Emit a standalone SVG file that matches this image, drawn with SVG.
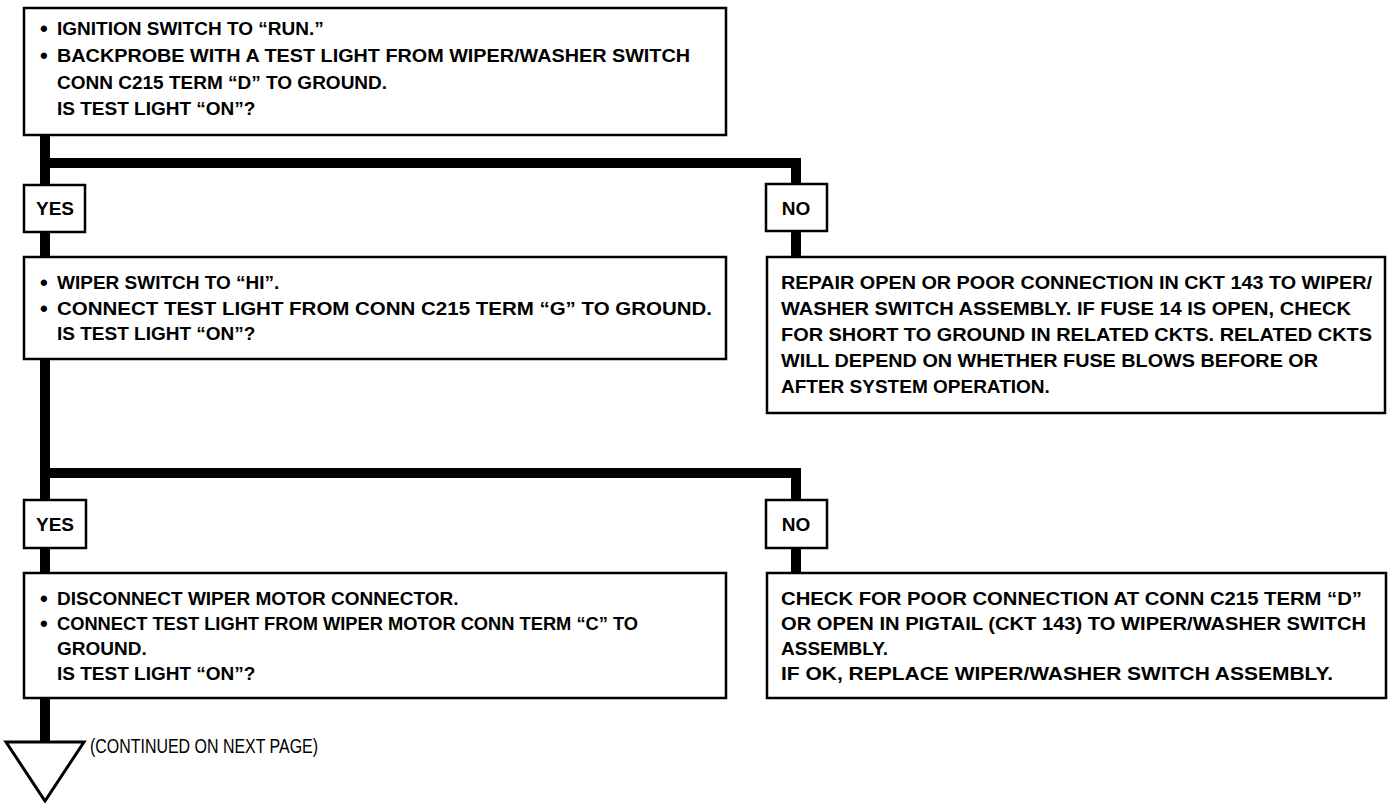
<svg xmlns="http://www.w3.org/2000/svg" width="1390" height="803" viewBox="0 0 1390 803">
<style>
.box{fill:#fff;stroke:#000;stroke-width:2.5}
.t{font-family:"Liberation Sans",Arial,Helvetica,sans-serif;font-weight:bold;font-size:19px;fill:#000}
.b{font-family:"Liberation Sans",Arial,Helvetica,sans-serif;font-weight:bold;font-size:22px;fill:#000}
.n{font-family:"Liberation Sans",Arial,Helvetica,sans-serif;font-size:21px;fill:#000}
.c{fill:none;stroke:#000;stroke-width:10;stroke-linejoin:miter;stroke-linecap:butt}
</style>
<rect width="1390" height="803" fill="#fff"/>
<g id="connectors">
<path class="c" d="M45 135 V742"/>
<path class="c" d="M45 163 H796 V184"/>
<path class="c" d="M796 231 V258"/>
<path class="c" d="M45 473 H796 V501"/>
<path class="c" d="M796 548 V573"/>
</g>
<g id="box1">
<rect class="box" x="24" y="8" width="702" height="127"/>
<text class="b" x="40" y="36">•</text><text class="t" x="57" y="35">IGNITION SWITCH TO “RUN.”</text>
<text class="b" x="40" y="63">•</text><text class="t" x="57" y="62" textLength="633" lengthAdjust="spacingAndGlyphs">BACKPROBE WITH A TEST LIGHT FROM WIPER/WASHER SWITCH</text>
<text class="t" x="57" y="89">CONN C215 TERM “D” TO GROUND.</text>
<text class="t" x="57" y="115">IS TEST LIGHT “ON”?</text>
</g>
<g id="yes1">
<rect class="box" x="24" y="185" width="61" height="47"/>
<text class="t" x="55" y="215" text-anchor="middle">YES</text>
</g>
<g id="no1">
<rect class="box" x="766" y="184" width="61" height="47"/>
<text class="t" x="796" y="215" text-anchor="middle">NO</text>
</g>
<g id="box2">
<rect class="box" x="24" y="257" width="702" height="102"/>
<text class="b" x="40" y="290">•</text><text class="t" x="57" y="289">WIPER SWITCH TO “HI”.</text>
<text class="b" x="40" y="316">•</text><text class="t" x="57" y="315" textLength="655" lengthAdjust="spacingAndGlyphs">CONNECT TEST LIGHT FROM CONN C215 TERM “G” TO GROUND.</text>
<text class="t" x="57" y="340">IS TEST LIGHT “ON”?</text>
</g>
<g id="box2no">
<rect class="box" x="767" y="257" width="618" height="156"/>
<text class="t" x="781" y="289" textLength="591" lengthAdjust="spacingAndGlyphs">REPAIR OPEN OR POOR CONNECTION IN CKT 143 TO WIPER/</text>
<text class="t" x="781" y="315" textLength="570" lengthAdjust="spacingAndGlyphs">WASHER SWITCH ASSEMBLY. IF FUSE 14 IS OPEN, CHECK</text>
<text class="t" x="781" y="341" textLength="591" lengthAdjust="spacingAndGlyphs">FOR SHORT TO GROUND IN RELATED CKTS. RELATED CKTS</text>
<text class="t" x="781" y="367" textLength="537" lengthAdjust="spacingAndGlyphs">WILL DEPEND ON WHETHER FUSE BLOWS BEFORE OR</text>
<text class="t" x="781" y="393">AFTER SYSTEM OPERATION.</text>
</g>
<g id="yes2">
<rect class="box" x="24" y="500" width="62" height="48"/>
<text class="t" x="55" y="531" text-anchor="middle">YES</text>
</g>
<g id="no2">
<rect class="box" x="766" y="500" width="61" height="48"/>
<text class="t" x="796" y="531" text-anchor="middle">NO</text>
</g>
<g id="box3">
<rect class="box" x="24" y="573" width="702" height="125"/>
<text class="b" x="40" y="606">•</text><text class="t" x="57" y="605">DISCONNECT WIPER MOTOR CONNECTOR.</text>
<text class="b" x="40" y="631">•</text><text class="t" x="57" y="630" textLength="581" lengthAdjust="spacingAndGlyphs">CONNECT TEST LIGHT FROM WIPER MOTOR CONN TERM “C” TO</text>
<text class="t" x="57" y="655">GROUND.</text>
<text class="t" x="57" y="680">IS TEST LIGHT “ON”?</text>
</g>
<g id="box3no">
<rect class="box" x="767" y="573" width="619" height="125"/>
<text class="t" x="781" y="605" textLength="581" lengthAdjust="spacingAndGlyphs">CHECK FOR POOR CONNECTION AT CONN C215 TERM “D”</text>
<text class="t" x="781" y="630" textLength="585" lengthAdjust="spacingAndGlyphs">OR OPEN IN PIGTAIL (CKT 143) TO WIPER/WASHER SWITCH</text>
<text class="t" x="781" y="655">ASSEMBLY.</text>
<text class="t" x="781" y="680" textLength="552" lengthAdjust="spacingAndGlyphs">IF OK, REPLACE WIPER/WASHER SWITCH ASSEMBLY.</text>
</g>
<g id="continued">
<polygon points="6,742 84,742 45,801" fill="#fff" stroke="#000" stroke-width="3"/>
<text class="n" x="90" y="753" textLength="228" lengthAdjust="spacingAndGlyphs">(CONTINUED ON NEXT PAGE)</text>
</g>
</svg>
